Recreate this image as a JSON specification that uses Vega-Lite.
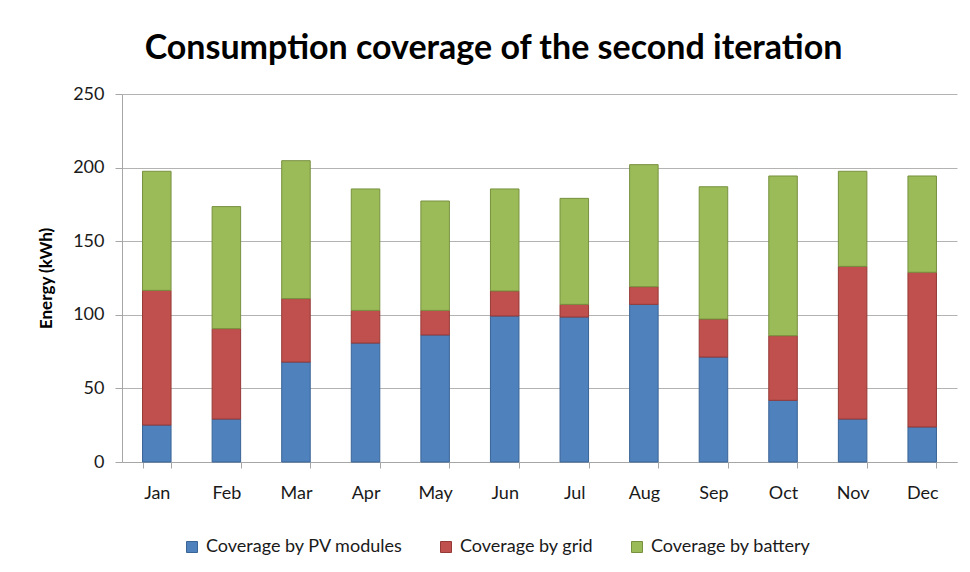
{
  "$schema": "https://vega.github.io/schema/vega-lite/v6.json",
  "width": 835,
  "height": 368,
  "autosize": {"type": "none"},
  "padding": {"left": 122, "top": 94, "right": 13, "bottom": 110},
  "background": "white",
  "title": {
    "text": "Consumption coverage of the second iteration",
    "font": "Lato",
    "fontSize": 34,
    "fontWeight": "bold",
    "color": "#000000",
    "anchor": "middle",
    "frame": "group",
    "dx": -46,
    "offset": 19
  },
  "data": {
    "values": [
      {"month": "Jan", "source": "Coverage by PV modules", "k": 1, "value": 25.1},
      {"month": "Jan", "source": "Coverage by grid", "k": 2, "value": 91.5},
      {"month": "Jan", "source": "Coverage by battery", "k": 3, "value": 80.9},
      {"month": "Feb", "source": "Coverage by PV modules", "k": 1, "value": 29.2},
      {"month": "Feb", "source": "Coverage by grid", "k": 2, "value": 61.4},
      {"month": "Feb", "source": "Coverage by battery", "k": 3, "value": 82.9},
      {"month": "Mar", "source": "Coverage by PV modules", "k": 1, "value": 67.9},
      {"month": "Mar", "source": "Coverage by grid", "k": 2, "value": 43.1},
      {"month": "Mar", "source": "Coverage by battery", "k": 3, "value": 93.7},
      {"month": "Apr", "source": "Coverage by PV modules", "k": 1, "value": 80.8},
      {"month": "Apr", "source": "Coverage by grid", "k": 2, "value": 22.2},
      {"month": "Apr", "source": "Coverage by battery", "k": 3, "value": 82.5},
      {"month": "May", "source": "Coverage by PV modules", "k": 1, "value": 86.3},
      {"month": "May", "source": "Coverage by grid", "k": 2, "value": 16.7},
      {"month": "May", "source": "Coverage by battery", "k": 3, "value": 74.3},
      {"month": "Jun", "source": "Coverage by PV modules", "k": 1, "value": 99.2},
      {"month": "Jun", "source": "Coverage by grid", "k": 2, "value": 17.0},
      {"month": "Jun", "source": "Coverage by battery", "k": 3, "value": 69.3},
      {"month": "Jul", "source": "Coverage by PV modules", "k": 1, "value": 98.5},
      {"month": "Jul", "source": "Coverage by grid", "k": 2, "value": 8.6},
      {"month": "Jul", "source": "Coverage by battery", "k": 3, "value": 72.0},
      {"month": "Aug", "source": "Coverage by PV modules", "k": 1, "value": 107.1},
      {"month": "Aug", "source": "Coverage by grid", "k": 2, "value": 12.0},
      {"month": "Aug", "source": "Coverage by battery", "k": 3, "value": 82.9},
      {"month": "Sep", "source": "Coverage by PV modules", "k": 1, "value": 71.3},
      {"month": "Sep", "source": "Coverage by grid", "k": 2, "value": 25.8},
      {"month": "Sep", "source": "Coverage by battery", "k": 3, "value": 89.9},
      {"month": "Oct", "source": "Coverage by PV modules", "k": 1, "value": 41.9},
      {"month": "Oct", "source": "Coverage by grid", "k": 2, "value": 43.9},
      {"month": "Oct", "source": "Coverage by battery", "k": 3, "value": 108.5},
      {"month": "Nov", "source": "Coverage by PV modules", "k": 1, "value": 29.2},
      {"month": "Nov", "source": "Coverage by grid", "k": 2, "value": 103.7},
      {"month": "Nov", "source": "Coverage by battery", "k": 3, "value": 64.6},
      {"month": "Dec", "source": "Coverage by PV modules", "k": 1, "value": 23.8},
      {"month": "Dec", "source": "Coverage by grid", "k": 2, "value": 105.1},
      {"month": "Dec", "source": "Coverage by battery", "k": 3, "value": 65.4}
    ]
  },
  "mark": {"type": "bar", "strokeWidth": 1},
  "encoding": {
    "x": {
      "field": "month",
      "type": "nominal",
      "sort": ["Jan", "Feb", "Mar", "Apr", "May", "Jun", "Jul", "Aug", "Sep", "Oct", "Nov", "Dec"],
      "scale": {"paddingInner": 0.59, "paddingOuter": 0.295},
      "axis": {
        "title": null,
        "labelAngle": 0,
        "labelFont": "Lato",
        "labelFontSize": 18,
        "labelColor": "#1a1a1a",
        "labelPadding": 16,
        "tickBand": "extent",
        "tickSize": 6,
        "tickColor": "#a6a6a6",
        "domainColor": "#a6a6a6",
        "grid": false
      }
    },
    "y": {
      "field": "value",
      "type": "quantitative",
      "stack": "zero",
      "scale": {"domain": [0, 250], "nice": false},
      "axis": {
        "title": "Energy (kWh)",
        "titleFont": "Lato",
        "titleFontSize": 17,
        "titleFontWeight": "bold",
        "titleColor": "#000000",
        "titlePadding": 17,
        "values": [0, 50, 100, 150, 200, 250],
        "labelFont": "Lato",
        "labelFontSize": 18,
        "labelColor": "#1a1a1a",
        "labelPadding": 11,
        "tickSize": 7,
        "tickColor": "#a6a6a6",
        "domainColor": "#a6a6a6",
        "grid": true,
        "gridColor": "#b3b3b3",
        "gridWidth": 1
      }
    },
    "color": {
      "field": "source",
      "type": "nominal",
      "scale": {
        "domain": ["Coverage by PV modules", "Coverage by grid", "Coverage by battery"],
        "range": ["#4F81BD", "#C0504D", "#9BBB59"]
      },
      "legend": {
        "title": null,
        "orient": "none",
        "direction": "horizontal",
        "legendX": 61,
        "legendY": 444,
        "symbolType": "square",
        "symbolSize": 121,
        "symbolStrokeWidth": 1,
        "labelFont": "Lato",
        "labelFontSize": 18,
        "labelColor": "#1a1a1a",
        "labelOffset": 5,
        "labelLimit": 0,
        "columnPadding": 34
      }
    },
    "stroke": {
      "field": "source",
      "type": "nominal",
      "scale": {
        "domain": ["Coverage by PV modules", "Coverage by grid", "Coverage by battery"],
        "range": ["#3A6496", "#953A37", "#78913F"]
      },
      "legend": null
    },
    "order": {"field": "k", "type": "quantitative"}
  },
  "config": {
    "view": {"stroke": null}
  }
}
